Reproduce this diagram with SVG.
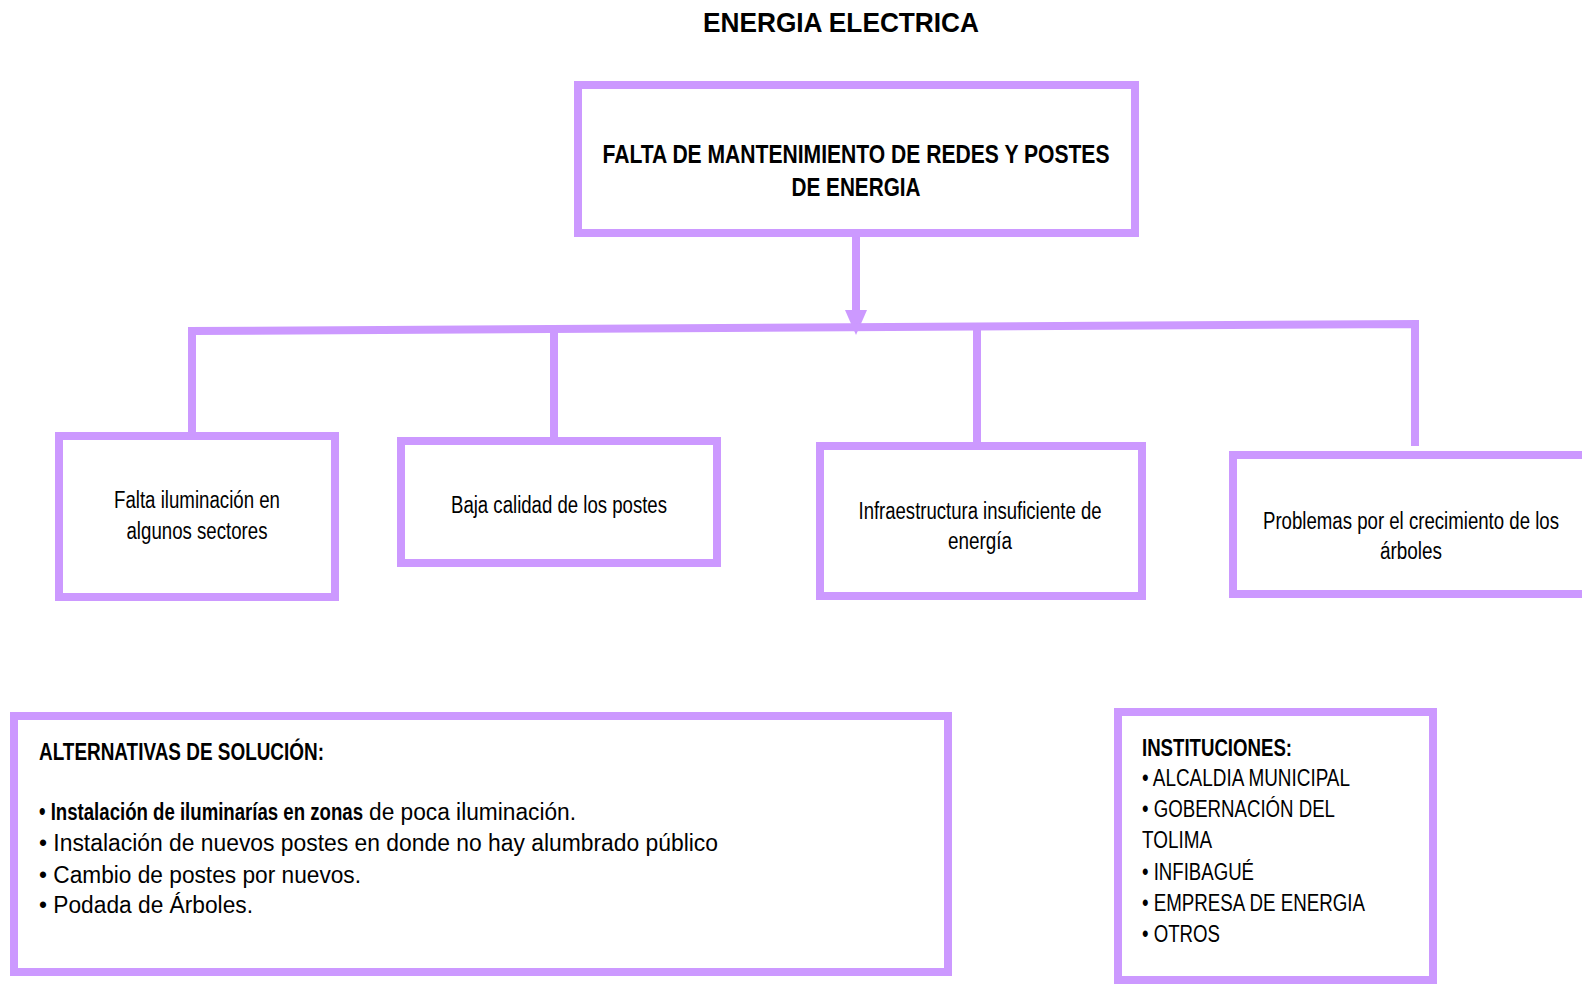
<svg xmlns="http://www.w3.org/2000/svg" width="1582" height="984" viewBox="0 0 1582 984">
<style>
.box{fill:#fff;stroke:#CC99FF;stroke-width:8}
.ln{fill:none;stroke:#CC99FF;stroke-width:8}
text{font-family:"Liberation Sans Narrow","Liberation Sans",Arial,sans-serif;fill:#000}
.t{font-size:28px;font-weight:bold;font-family:"Liberation Sans",Arial,sans-serif}
.hb{font-size:26px;font-weight:bold}
.n{font-size:23px}
.nb{font-size:23px;font-weight:bold}
.r{font-size:23px;font-family:"Liberation Sans",Arial,sans-serif}
.b{font-weight:bold;font-family:"Liberation Sans Narrow","Liberation Sans",Arial,sans-serif}
</style>
<rect width="1582" height="984" fill="#fff"/>
<text class="t" x="841" y="32" text-anchor="middle" textLength="276" lengthAdjust="spacingAndGlyphs">ENERGIA ELECTRICA</text>
<g id="connectors">
<line class="ln" x1="856" y1="236" x2="856" y2="313"/>
<polygon points="845,310 867,310 856,335" fill="#CC99FF"/>
<polyline class="ln" points="192,434 192,331 1415,324 1415,446"/>
<line class="ln" x1="554" y1="330" x2="554" y2="439"/>
<line class="ln" x1="977" y1="326" x2="977" y2="444"/>
</g>
<g id="main">
<rect class="box" x="578" y="85" width="557" height="148"/>
<text class="hb" x="856" y="163" text-anchor="middle" textLength="507" lengthAdjust="spacingAndGlyphs">FALTA DE MANTENIMIENTO DE REDES Y POSTES</text>
<text class="hb" x="856" y="196" text-anchor="middle" textLength="129" lengthAdjust="spacingAndGlyphs">DE ENERGIA</text>
</g>
<g id="n1">
<rect class="box" x="59" y="436" width="276" height="161"/>
<text class="n" x="197" y="508" text-anchor="middle" textLength="166" lengthAdjust="spacingAndGlyphs">Falta iluminación en</text>
<text class="n" x="197" y="539" text-anchor="middle" textLength="141" lengthAdjust="spacingAndGlyphs">algunos sectores</text>
</g>
<g id="n2">
<rect class="box" x="401" y="441" width="316" height="122"/>
<text class="n" x="559" y="513" text-anchor="middle" textLength="216" lengthAdjust="spacingAndGlyphs">Baja calidad de los postes</text>
</g>
<g id="n3">
<rect class="box" x="820" y="446" width="322" height="150"/>
<text class="n" x="980" y="519" text-anchor="middle" textLength="243" lengthAdjust="spacingAndGlyphs">Infraestructura insuficiente de</text>
<text class="n" x="980" y="549" text-anchor="middle" textLength="64" lengthAdjust="spacingAndGlyphs">energía</text>
</g>
<g id="n4">
<rect class="box" x="1233" y="455" width="364" height="139"/>
<text class="n" x="1411" y="529" text-anchor="middle" textLength="296" lengthAdjust="spacingAndGlyphs">Problemas por el crecimiento de los</text>
<text class="n" x="1411" y="559" text-anchor="middle" textLength="62" lengthAdjust="spacingAndGlyphs">árboles</text>
</g>
<g id="alternativas">
<rect class="box" x="14" y="716" width="934" height="256"/>
<text class="nb" x="39" y="760" textLength="285" lengthAdjust="spacingAndGlyphs">ALTERNATIVAS DE SOLUCIÓN:</text>
<text class="r" y="820"><tspan class="b" x="39" textLength="324" lengthAdjust="spacingAndGlyphs">• Instalación de iluminarías en zonas</tspan><tspan x="369" textLength="207" lengthAdjust="spacingAndGlyphs">de poca iluminación.</tspan></text>
<text class="r" x="39" y="851" textLength="679" lengthAdjust="spacingAndGlyphs">• Instalación de nuevos postes en donde no hay alumbrado público</text>
<text class="r" x="39" y="883" textLength="322" lengthAdjust="spacingAndGlyphs">• Cambio de postes por nuevos.</text>
<text class="r" x="39" y="913" textLength="214" lengthAdjust="spacingAndGlyphs">• Podada de Árboles.</text>
</g>
<g id="instituciones">
<rect class="box" x="1118" y="712" width="315" height="268"/>
<text class="nb" x="1142" y="756" textLength="150" lengthAdjust="spacingAndGlyphs">INSTITUCIONES:</text>
<text class="n" x="1142" y="786" textLength="208" lengthAdjust="spacingAndGlyphs">• ALCALDIA MUNICIPAL</text>
<text class="n" x="1142" y="817" textLength="193" lengthAdjust="spacingAndGlyphs">• GOBERNACIÓN DEL</text>
<text class="n" x="1142" y="848" textLength="70" lengthAdjust="spacingAndGlyphs">TOLIMA</text>
<text class="n" x="1142" y="880" textLength="112" lengthAdjust="spacingAndGlyphs">• INFIBAGUÉ</text>
<text class="n" x="1142" y="911" textLength="223" lengthAdjust="spacingAndGlyphs">• EMPRESA DE ENERGIA</text>
<text class="n" x="1142" y="942" textLength="78" lengthAdjust="spacingAndGlyphs">• OTROS</text>
</g>
</svg>
